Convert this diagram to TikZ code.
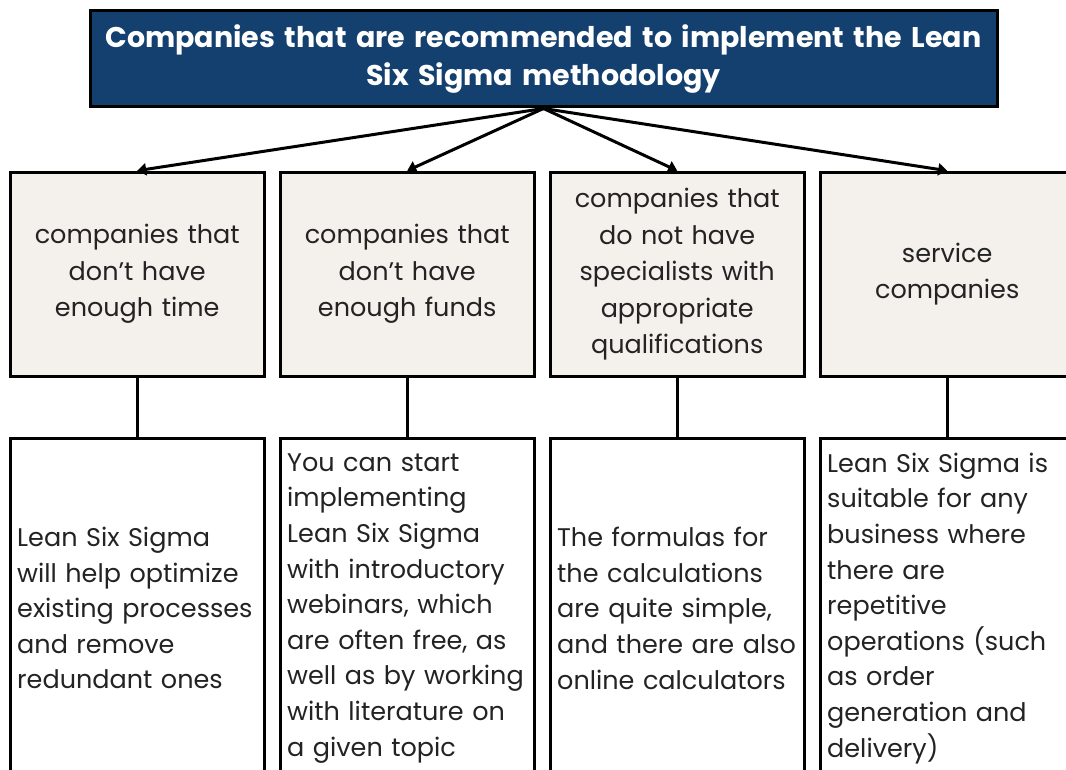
\documentclass[tikz,border=0pt]{standalone}
\usepackage{fontspec}
\setmainfont{Poppins}
\usetikzlibrary{arrows.meta}
\definecolor{lssBlue}{RGB}{19, 64, 110}
\definecolor{lssBeige}{RGB}{244, 240, 235}
\definecolor{lssText}{RGB}{35, 35, 35}

\begin{document}
\begin{tikzpicture} [
    x=1pt, y=1pt,
    header/.style = { rectangle, draw=black, line width=3pt, fill=lssBlue,
                      text=white, text width=900pt, align=center,
                      minimum width=907pt, minimum height=96pt, inner sep=0pt,
                      font=\bfseries\fontsize{28.5}{38}\selectfont},
    group/.style  = { rectangle, draw=black, line width=3pt, fill=lssBeige,
                      text=lssText, text width=245pt, align=center,
                      minimum width=254pt, minimum height=204pt, inner sep=0pt,
                      font=\fontsize{25.5}{36.5}\selectfont},
    hint/.style   = { rectangle, draw=black, line width=3pt, fill=white,
                      text=lssText, text width=240pt, align=left,
                      minimum width=254pt, minimum height=340pt,
                      inner xsep=7pt, inner ysep=0pt,
                      font=\fontsize{25.5}{35.6}\selectfont},
    line/.style   = { draw, line width=3pt, -{Triangle[width=12pt,length=9pt]}},
  ]

  \path [use as bounding box, clip] (0,0) rectangle (1066,-770);

%Kopf
  \node [header] (0a) at (543.5,-59)
        {Companies that are recommended to implement the Lean\\
         Six Sigma methodology};

%Knotenbenennung Zahl = Zeile; a..d = Spalte von links nach rechts
  \matrix [column sep=13pt,
		row sep=59pt,
		inner sep=0pt,
		anchor=north west
		] at (8.5,-170.5) {
                    \node [group] (1a) {companies that\\ don't have\\ enough time};
                    	& \node [group] (1b) {companies that\\ don't have\\ enough funds};
                    		& \node [group] (1c) {companies that\\ do not have\\ specialists with\\ appropriate\\ qualifications};
                    			& \node [group] (1d) {service\\ companies}; \\

		%%%%%%%%%%%%%%%%%%%%%%%%%%%%%%%%%%%%%%%%%%

		\node [hint] (2a) {Lean Six Sigma\\ will help optimize\\ existing processes\\ and remove\\ redundant ones};
			& \node [hint] (2b) {You can start\\ implementing\\ Lean Six Sigma\\ with introductory\\ webinars, which\\ are often free, as\\ well as by working\\ with literature on\\ a given topic};
				& \node [hint] (2c) {The formulas for\\ the calculations\\ are quite simple,\\ and there are also\\ online calculators};
					& \node [hint] (2d) {Lean Six Sigma is\\ suitable for any\\ business where\\ there are\\ repetitive\\ operations (such\\ as order\\ generation and\\ delivery)}; \\
  };

%Pfeile (vom Kopf zu den Gruppen)
  \begin{scope} [every path/.style={line}]
   \path (0a.south) -- (1a.north);
   \path (0a.south) -- (1b.north);
   \path (0a.south) -- (1c.north);
   \path (0a.south) -- (1d.north);
  \end{scope}

%Linien (von Gruppe zu Hinweis)
  \begin{scope} [every path/.style={draw, line width=3pt}]
   \path (1a) -- (2a);
   \path (1b) -- (2b);
   \path (1c) -- (2c);
   \path (1d) -- (2d);
  \end{scope}
\end{tikzpicture}
\end{document}
